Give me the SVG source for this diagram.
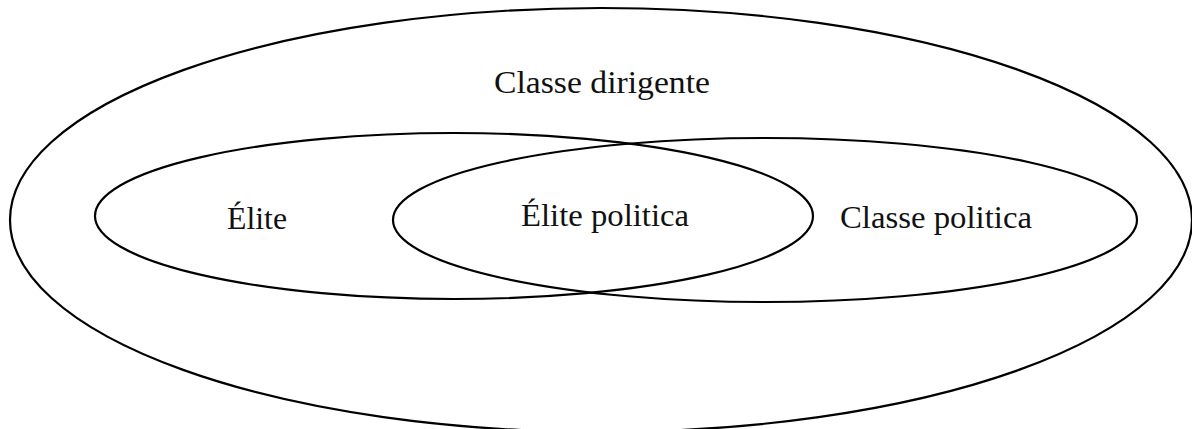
<svg xmlns="http://www.w3.org/2000/svg" width="1192" height="429" viewBox="0 0 1192 429">
<style>
.sh{fill:none;stroke:#000;stroke-width:2.2}
.lb{font-family:"Liberation Serif","DejaVu Serif",serif;font-size:32px;fill:#111}
</style>
<rect width="1192" height="429" fill="#fff"/>
<g id="classe-dirigente">
<ellipse class="sh" cx="601" cy="220" rx="591" ry="212"/>
<text class="lb" x="494" y="93" textLength="216" lengthAdjust="spacingAndGlyphs">Classe dirigente</text>
</g>
<g id="elite">
<ellipse class="sh" cx="454" cy="216" rx="359" ry="83"/>
<text class="lb" x="227" y="229" textLength="60" lengthAdjust="spacingAndGlyphs">Élite</text>
</g>
<g id="classe-politica">
<ellipse class="sh" cx="765" cy="220" rx="372" ry="82"/>
<text class="lb" x="840" y="228" textLength="192" lengthAdjust="spacingAndGlyphs">Classe politica</text>
</g>
<g id="elite-politica">
<text class="lb" x="521" y="226" textLength="168" lengthAdjust="spacingAndGlyphs">Élite politica</text>
</g>
<g id="connectors"></g>
</svg>
